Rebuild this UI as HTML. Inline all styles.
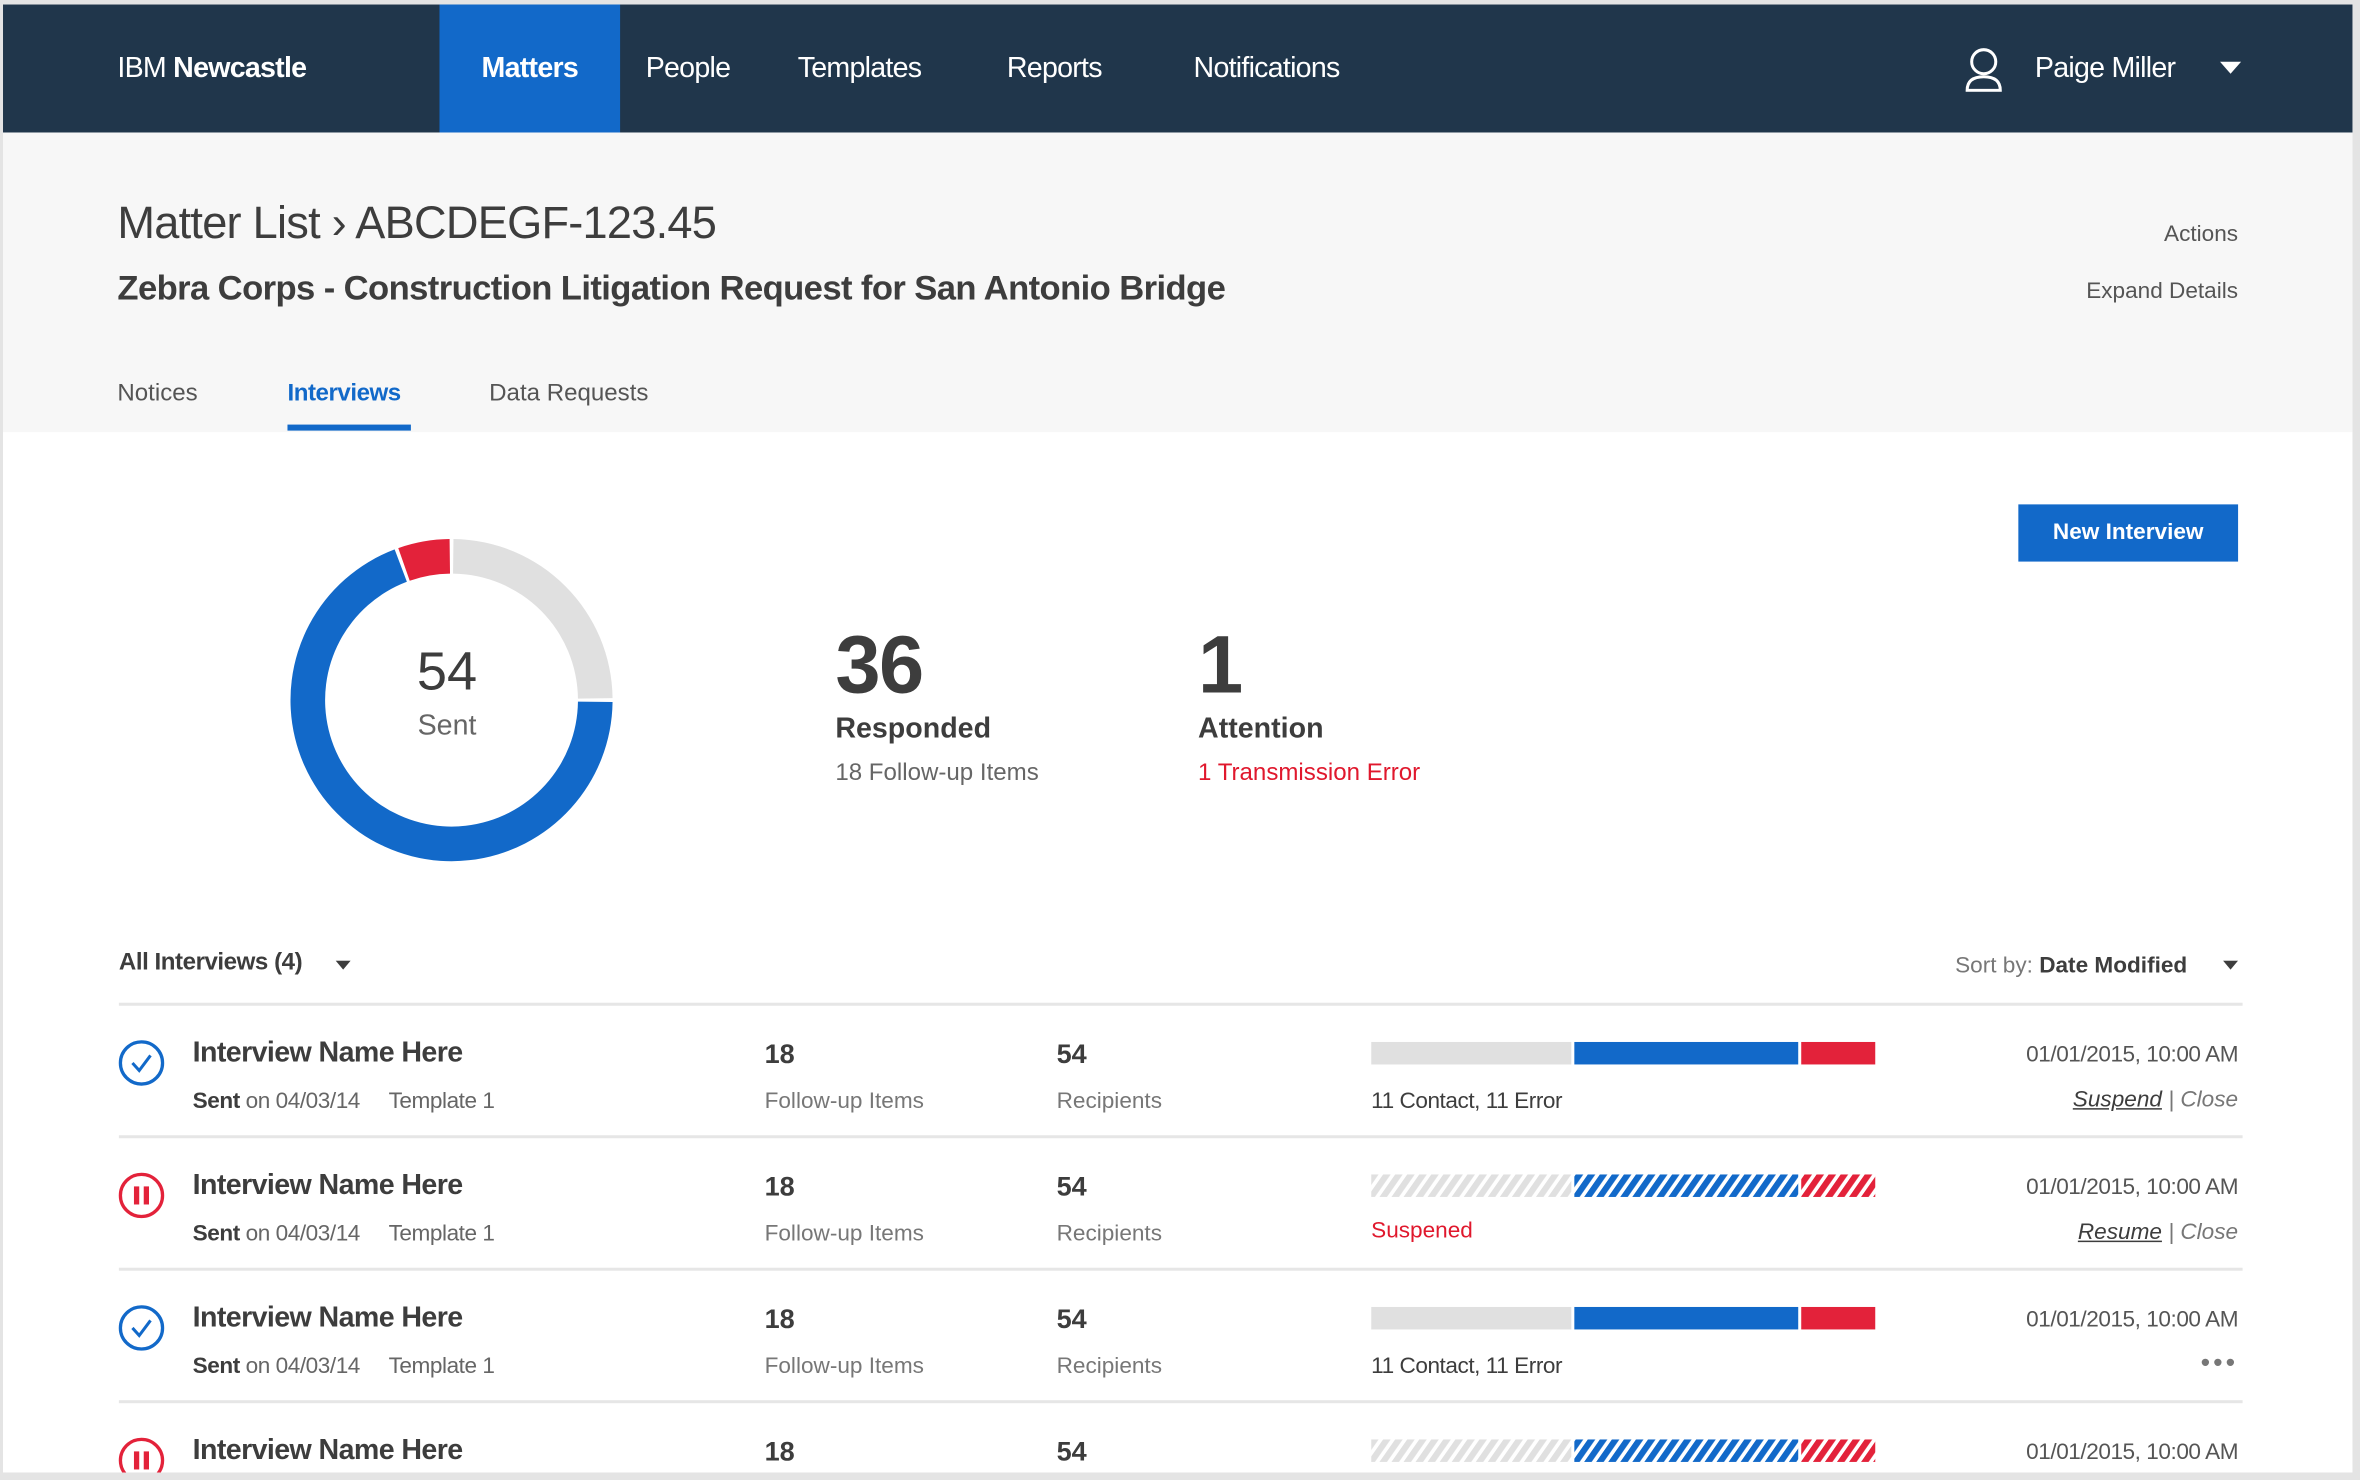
<!DOCTYPE html>
<html><head><meta charset="utf-8">
<style>
html,body{margin:0;padding:0;width:2360px;height:1480px;overflow:hidden;background:#e4e4e4;}
#w{position:absolute;left:0;top:0;width:1568px;height:983px;transform:scale(1.50510,1.50560);transform-origin:0 0;font-family:"Liberation Sans",Arial,sans-serif;color:#3d3d3d;}
.a{position:absolute;white-space:nowrap;}
#page{position:absolute;left:2px;top:3px;width:1561px;height:975px;background:#fff;overflow:hidden;}
#nav{position:absolute;left:0;top:0;width:1561px;height:85px;background:#20364b;}
.nv{position:absolute;top:0;height:85px;line-height:85px;color:#fff;font-size:19px;letter-spacing:-0.5px;}
#hdr{position:absolute;left:0;top:85px;width:1561px;height:199px;background:#f7f7f7;}
.sep{position:absolute;left:77px;width:1411px;height:2px;background:#e6e6e6;}
</style></head><body>
<div id="w">
<div id="page">
 <div id="nav">
  <div class="nv" style="left:76px;font-size:19px">IBM <b>Newcastle</b></div>
  <div class="nv" style="left:290px;width:120px;background:#1269c9;text-align:center;font-weight:bold">Matters</div>
  <div class="nv" style="left:427px">People</div>
  <div class="nv" style="left:528px">Templates</div>
  <div class="nv" style="left:667px">Reports</div>
  <div class="nv" style="left:791px">Notifications</div>
  <svg class="a" style="left:1303px;top:28px" width="26" height="30"><circle cx="13" cy="10" r="8" fill="none" stroke="#fff" stroke-width="2"/><path d="M2 29 Q2 20 13 20 Q24 20 24 29 Z" fill="none" stroke="#fff" stroke-width="2"/></svg>
  <div class="nv" style="left:1350px">Paige Miller</div>
  <svg class="a" style="left:1472px;top:37px" width="16" height="10"><path d="M1 1 L15 1 L8 9 Z" fill="#fff"/></svg>
 </div>
 <div id="hdr">
  <div class="a" style="left:76px;top:44px;font-size:30px;color:#3d3d3d;letter-spacing:-0.5px">Matter List › ABCDEGF-123.45</div>
  <div class="a" style="left:76px;top:90px;font-size:23px;font-weight:bold;color:#3d3d3d;letter-spacing:-0.4px">Zebra Corps - Construction Litigation Request for San Antonio Bridge</div>
  <div class="a" style="right:76px;top:59px;font-size:15px;color:#555">Actions</div>
  <div class="a" style="right:76px;top:97px;font-size:15px;color:#555">Expand Details</div>
  <div class="a" style="left:76px;top:165px;font-size:16px;color:#555">Notices</div>
  <div class="a" style="left:189px;top:165px;font-size:16px;color:#1269c9;font-weight:bold;letter-spacing:-0.3px">Interviews</div>
  <div class="a" style="left:189px;top:194px;width:82px;height:4px;background:#1269c9"></div>
  <div class="a" style="left:323px;top:165px;font-size:16px;color:#555">Data Requests</div>
 </div>
 <div class="a" style="left:1339px;top:332px;width:146px;height:38px;background:#1269c9;color:#fff;font-size:15px;font-weight:bold;text-align:center;line-height:38px">New Interview</div>

 <svg class="a" style="left:178px;top:339px" width="240" height="240" id="donut"></svg>
 <div class="a" style="left:235px;top:422px;width:120px;text-align:center;font-size:36px;color:#3d3d3d">54</div>
 <div class="a" style="left:235px;top:469px;width:120px;text-align:center;font-size:19px;color:#666">Sent</div>

 <div class="a" style="left:553px;top:408px;font-size:54px;font-weight:bold;color:#3d3d3d;letter-spacing:-1px">36</div>
 <div class="a" style="left:553px;top:471px;font-size:19px;font-weight:bold">Responded</div>
 <div class="a" style="left:553px;top:502px;font-size:16px;color:#666">18 Follow-up Items</div>
 <div class="a" style="left:794px;top:408px;font-size:54px;font-weight:bold;color:#3d3d3d">1</div>
 <div class="a" style="left:794px;top:471px;font-size:19px;font-weight:bold">Attention</div>
 <div class="a" style="left:794px;top:502px;font-size:16px;color:#e0182d">1 Transmission Error</div>

 <div class="a" style="left:77px;top:628px;font-size:16px;font-weight:bold;color:#3d3d3d;letter-spacing:-0.3px">All Interviews (4)</div>
 <svg class="a" style="left:221px;top:635px" width="10" height="7"><path d="M0 0 L10 0 L5 6 Z" fill="#3d3d3d"/></svg>
 <div class="a" style="left:1297px;top:630px;font-size:15px;color:#777">Sort by: <b style="color:#3d3d3d">Date Modified</b></div>
 <svg class="a" style="left:1475px;top:635px" width="10" height="7"><path d="M0 0 L10 0 L5 6 Z" fill="#3d3d3d"/></svg>
 <div class="sep" style="top:663px"></div>
 <div id="rows"></div>
</div>
</div>
<script>
// donut data (clockwise from top)
const donutCats = ['Pending','Responded','Error'];
const donutVals = [13.5, 37.5, 3];
const donutColors = ['#e0e0e0','#1269c9','#e3223a'];
// row data
const rowNames = ['Interview Name Here','Interview Name Here','Interview Name Here','Interview Name Here'];
const rowFollow = [18,18,18,18];
const rowRecip = [54,54,54,54];
const rowStatus = ['active','suspended','active','suspended'];
const barPending = [40,40,40,40];
const barContact = [45,45,45,45];
const barError = [15,15,15,15];

const NS='http://www.w3.org/2000/svg';
const svg=document.getElementById('donut');
const cx=120,cy=123,R=107,r=84;
const total=donutVals.reduce((a,b)=>a+b,0);
let acc=0;
function pt(rad,ang){return [cx+rad*Math.sin(ang),cy-rad*Math.cos(ang)];}
donutVals.forEach((v,i)=>{
  const a0=acc/total*2*Math.PI+0.012, a1=(acc+v)/total*2*Math.PI-0.012; acc+=v;
  const lg=(a1-a0)>Math.PI?1:0;
  const [x0,y0]=pt(R,a0),[x1,y1]=pt(R,a1),[x2,y2]=pt(r,a1),[x3,y3]=pt(r,a0);
  const p=document.createElementNS(NS,'path');
  p.setAttribute('d',`M${x0} ${y0} A${R} ${R} 0 ${lg} 1 ${x1} ${y1} L${x2} ${y2} A${r} ${r} 0 ${lg} 0 ${x3} ${y3} Z`);
  p.setAttribute('fill',donutColors[i]);
  
  
  svg.appendChild(p);
});

const rows=document.getElementById('rows');
const barX=909, barW=335;
rowNames.forEach((n,i)=>{
  const y=668+i*88;
  const g=document.createElement('div');
  g.className='a'; g.style.left='0px'; g.style.top=y+'px'; g.style.width='1561px'; g.style.height='88px';
  
  
  const sus=rowStatus[i]==='suspended';
  const icon=sus?`<svg class="a" style="left:76px;top:19px" width="32" height="32"><circle cx="16" cy="16" r="14" fill="none" stroke="#e3223a" stroke-width="2.2"/><rect x="11" y="10" width="3.5" height="12" fill="#e3223a"/><rect x="17.5" y="10" width="3.5" height="12" fill="#e3223a"/></svg>`
    :`<svg class="a" style="left:76px;top:19px" width="32" height="32"><circle cx="16" cy="16" r="14" fill="none" stroke="#1269c9" stroke-width="2.2"/><path d="M10 16 L14.5 21 L22 11" fill="none" stroke="#1269c9" stroke-width="2"/></svg>`;
  const tot=barPending[i]+barContact[i]+barError[i];
  const w0=barPending[i]/tot*barW, w1=barContact[i]/tot*barW, w2=barError[i]/tot*barW;
  const bar=`<svg class="a" style="left:${barX}px;top:21px" width="${barW}" height="15">
   <defs>${['#e0e0e0','#1269c9','#e3223a'].map((c,k)=>`<pattern id="p${i}${k}" width="8" height="15" patternUnits="userSpaceOnUse" patternTransform="skewX(-35)"><rect width="8" height="15" fill="#fff"/><rect width="5" height="15" fill="${c}"/></pattern>`).join('')}</defs>
   <rect x="0" y="0" width="${w0-1}" height="15" fill="${sus?'url(#p'+i+'0)':'#e0e0e0'}"/>
   <rect x="${w0+1}" y="0" width="${w1-2}" height="15" fill="${sus?'url(#p'+i+'1)':'#1269c9'}"/>
   <rect x="${w0+w1+1}" y="0" width="${w2-1}" height="15" fill="${sus?'url(#p'+i+'2)':'#e3223a'}"/></svg>`;
  let action;
  if(i===0) action=`<div class="a" style="right:76px;top:51px;font-size:15px;color:#777;font-style:italic"><span style="color:#3d3d3d;text-decoration:underline">Suspend</span> | Close</div>`;
  else if(i===1) action=`<div class="a" style="right:76px;top:51px;font-size:15px;color:#777;font-style:italic"><span style="color:#3d3d3d;text-decoration:underline">Resume</span> | Close</div>`;
  else if(i===2) action=`<div class="a" style="right:76px;top:48px;font-size:18px;color:#777;letter-spacing:2px">•••</div>`;
  else action='';
  const sub = i===1?`<div class="a" style="left:909px;top:50px;font-size:15px;color:#e0182d">Suspened</div>`
    : i===3?'':`<div class="a" style="left:909px;top:52px;font-size:15px;color:#3d3d3d;letter-spacing:-0.3px">11 Contact, 11 Error</div>`;
  g.innerHTML=icon+
   `<div class="a" style="left:126px;top:18px;font-size:19px;font-weight:bold;color:#3d3d3d;letter-spacing:-0.4px">${n}</div>
    <div class="a" style="left:126px;top:52px;font-size:15px;color:#666;letter-spacing:-0.3px"><b style="color:#3d3d3d">Sent</b> on 04/03/14 &nbsp;&nbsp;&nbsp; Template 1</div>
    <div class="a" style="left:506px;top:19px;font-size:18px;font-weight:bold">${rowFollow[i]}</div>
    <div class="a" style="left:506px;top:52px;font-size:15px;color:#777">Follow-up Items</div>
    <div class="a" style="left:700px;top:19px;font-size:18px;font-weight:bold">${rowRecip[i]}</div>
    <div class="a" style="left:700px;top:52px;font-size:15px;color:#777">Recipients</div>`+bar+
   `<div class="a" style="right:76px;top:21px;font-size:15px;color:#555;letter-spacing:-0.3px">01/01/2015, 10:00 AM</div>`+sub+action+
   (i<3?`<div class="sep" style="top:83px"></div>`:'');
  rows.appendChild(g);
});
</script>
</body></html>
